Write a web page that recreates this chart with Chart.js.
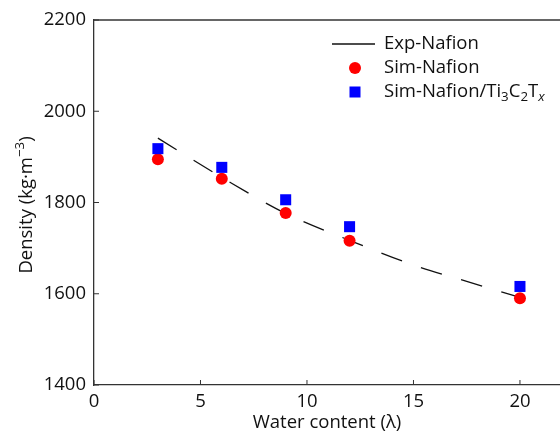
<!DOCTYPE html>
<html>
<head>
<meta charset="utf-8">
<script src="https://cdn.jsdelivr.net/npm/chart.js@4/dist/chart.umd.min.js"></script>
<style>
  html, body { margin: 0; padding: 0; background: #fff; }
  #wrap { width: 560px; height: 434px; }
</style>
</head>
<body>
<div id="wrap"><canvas id="densityChart" width="560" height="434"></canvas></div>
<script>
// ==============================
// Datos: densidad vs contenido de agua
// ==============================
const waterContent = [3, 6, 9, 12, 20];
const simNafion = [1895, 1852, 1777, 1716, 1590];
const simNafionTi = [1918, 1877, 1806, 1747, 1616];

const expWater = [3, 6, 9, 12, 15, 17.5, 20];
const expNafion = [1941, 1855, 1776, 1717, 1663, 1627, 1592];

const xTicks = [0, 5, 10, 15, 20];
const yTicks = [1400, 1600, 1800, 2000, 2200];

const FONT = '"Open Sans", "DejaVu Sans", sans-serif';
const FONT_SIZE = 18.5;
const AXIS_COLOR = '#333';

function toPoints(xs, ys) {
  return xs.map((x, i) => ({ x: x, y: ys[i] }));
}

// Texto con sub/superíndices: partes [texto, modo] con modo '', 'sub', 'sup', 'subi'
function drawRichText(ctx, parts, x, y, size) {
  let cx = x;
  parts.forEach(([txt, mode]) => {
    let fs = size, dy = 0, style = '';
    if (mode === 'sub' || mode === 'subi') { fs = size * 0.72; dy = size * 0.28; }
    if (mode === 'sup') { fs = size * 0.72; dy = -size * 0.45; }
    if (mode === 'subi') style = 'italic ';
    ctx.font = style + fs + 'px ' + FONT;
    ctx.fillText(txt, cx, y + dy);
    cx += ctx.measureText(txt).width;
  });
  return cx - x;
}

function measureRich(ctx, parts, size) {
  let w = 0;
  parts.forEach(([txt, mode]) => {
    const fs = mode ? size * 0.72 : size;
    ctx.font = (mode === 'subi' ? 'italic ' : '') + fs + 'px ' + FONT;
    w += ctx.measureText(txt).width;
  });
  return w;
}

// Marco superior, ticks hacia dentro, título Y y leyenda
const decorPlugin = {
  id: 'decorPlugin',
  afterDraw(chart) {
    const ctx = chart.ctx;
    const area = chart.chartArea;
    const xs = chart.scales.x;
    const ys = chart.scales.y;
    ctx.save();

    // borde superior
    ctx.strokeStyle = AXIS_COLOR;
    ctx.lineWidth = 1.3;
    ctx.beginPath();
    ctx.moveTo(area.left, area.top);
    ctx.lineTo(area.right, area.top);
    ctx.stroke();

    // ticks hacia dentro
    ctx.lineWidth = 1;
    ctx.beginPath();
    xs.ticks.forEach(t => {
      const px = xs.getPixelForValue(t.value);
      ctx.moveTo(px, area.bottom);
      ctx.lineTo(px, area.bottom - 5);
    });
    ys.ticks.forEach(t => {
      const py = ys.getPixelForValue(t.value);
      ctx.moveTo(area.left, py);
      ctx.lineTo(area.left + 5, py);
    });
    ctx.stroke();

    // título del eje Y (línea base a x = 32)
    const yParts = [['Density (kg\u00b7m', ''], ['\u22123', 'sup'], [')', '']];
    const w = measureRich(ctx, yParts, FONT_SIZE);
    ctx.translate(32, 205);
    ctx.rotate(-Math.PI / 2);
    ctx.fillStyle = '#111';
    ctx.textBaseline = 'alphabetic';
    ctx.textAlign = 'left';
    drawRichText(ctx, yParts, -w / 2, 0, FONT_SIZE);
    ctx.setTransform(1, 0, 0, 1, 0, 0);

    // leyenda
    const lx = 384, sx = 355;
    const rows = [44, 68, 92];
    ctx.strokeStyle = '#111';
    ctx.lineWidth = 1.3;
    ctx.beginPath();
    ctx.moveTo(332, rows[0]);
    ctx.lineTo(375, rows[0]);
    ctx.stroke();

    ctx.fillStyle = '#ff0000';
    ctx.beginPath();
    ctx.arc(sx, rows[1], 6, 0, Math.PI * 2);
    ctx.fill();

    ctx.fillStyle = '#0000ff';
    ctx.fillRect(sx - 5.5, rows[2] - 5.5, 11, 11);

    ctx.fillStyle = '#111';
    ctx.textBaseline = 'middle';
    drawRichText(ctx, [['Exp-Nafion', '']], lx, rows[0], FONT_SIZE);
    drawRichText(ctx, [['Sim-Nafion', '']], lx, rows[1], FONT_SIZE);
    drawRichText(ctx, [
      ['Sim-Nafion/Ti', ''], ['3', 'sub'], ['C', ''], ['2', 'sub'], ['T', ''], ['x', 'subi']
    ], lx, rows[2], FONT_SIZE);

    ctx.restore();
  }
};

const chart = new Chart(document.getElementById('densityChart').getContext('2d'), {
  type: 'scatter',
  data: {
    datasets: [
      {
        label: 'Exp-Nafion',
        type: 'line',
        data: toPoints(expWater, expNafion),
        borderColor: '#111',
        borderWidth: 1.3,
        borderDash: [22, 20],
        pointRadius: 0,
        fill: false,
        cubicInterpolationMode: 'monotone',
        order: 3
      },
      {
        label: 'Sim-Nafion',
        data: toPoints(waterContent, simNafion),
        pointStyle: 'circle',
        pointRadius: 6,
        backgroundColor: '#ff0000',
        borderWidth: 0,
        order: 2
      },
      {
        label: 'Sim-Nafion/Ti3C2Tx',
        data: toPoints(waterContent, simNafionTi),
        pointStyle: 'rect',
        pointRadius: 7.8,
        backgroundColor: '#0000ff',
        borderWidth: 0,
        order: 1
      }
    ]
  },
  options: {
    responsive: false,
    animation: false,
    layout: { autoPadding: false, padding: { top: 20, right: 0, left: 0, bottom: 0 } },
    plugins: {
      legend: { display: false },
      tooltip: { enabled: false }
    },
    scales: {
      x: {
        type: 'linear',
        min: 0,
        max: 21.88,
        afterFit: s => { s.height = 49; s.paddingRight = 0; s.paddingLeft = 0; },
        afterBuildTicks: s => { s.ticks = xTicks.map(v => ({ value: v })); },
        ticks: { color: '#111', font: { family: FONT, size: FONT_SIZE }, padding: 6, maxRotation: 0, autoSkip: false },
        grid: { display: false, drawTicks: false },
        border: { display: true, color: AXIS_COLOR, width: 1.3 },
        title: {
          display: true,
          text: 'Water content (\u03bb)',
          color: '#111',
          font: { family: FONT, size: FONT_SIZE },
          padding: { top: 0, bottom: 0.5 }
        }
      },
      y: {
        min: 1400,
        max: 2200,
        afterFit: s => { s.width = 94; s.paddingTop = 0; s.paddingBottom = 0; },
        afterBuildTicks: s => { s.ticks = yTicks.map(v => ({ value: v })); },
        ticks: {
          color: '#111',
          font: { family: FONT, size: FONT_SIZE },
          padding: 8,
          callback: v => String(v)
        },
        grid: { display: false, drawTicks: false },
        border: { display: true, color: AXIS_COLOR, width: 1.3 }
      }
    }
  },
  plugins: [decorPlugin]
});
</script>
</body>
</html>
